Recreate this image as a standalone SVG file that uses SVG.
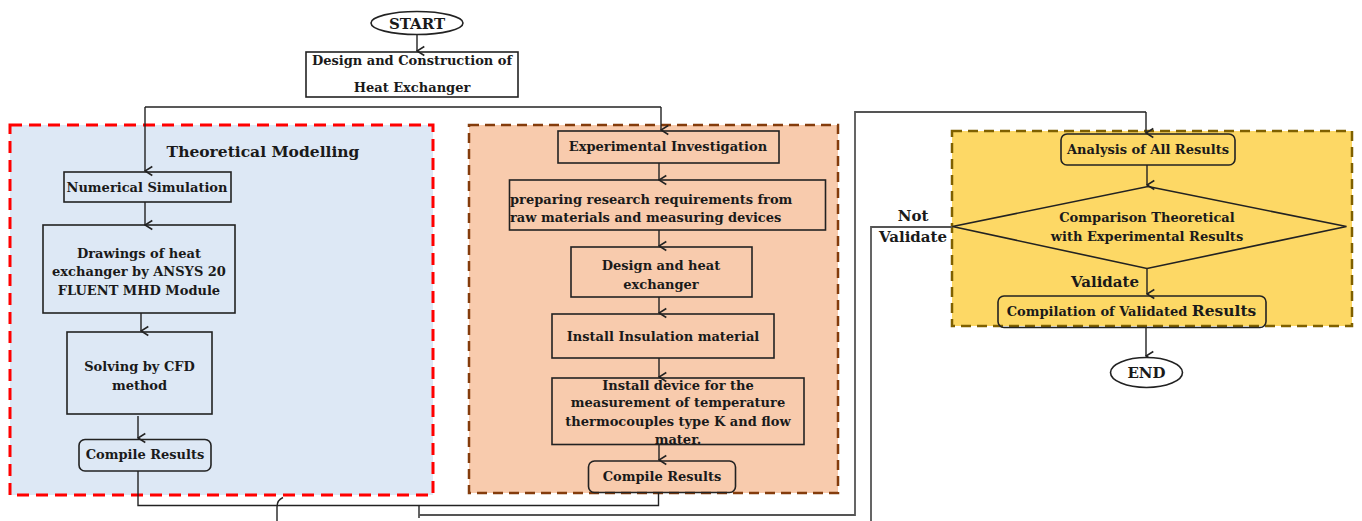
<svg xmlns="http://www.w3.org/2000/svg" width="1362" height="521" viewBox="0 0 1362 521">
  <defs>
    <marker id="arr" viewBox="0 0 12 12" refX="6" refY="11.3" markerWidth="12" markerHeight="12" markerUnits="userSpaceOnUse" orient="auto-start-reverse">
      <path d="M1.5,4 L6,11.3 L10.5,4" fill="none" stroke="#222" stroke-width="1.5"/>
    </marker>
  </defs>
  <style>
    text { font-family: "DejaVu Serif", "Liberation Serif", serif; font-weight: bold; fill: #1a1a1a; text-anchor: middle; font-size: 13px; }
    .box { fill: none; stroke: #222; stroke-width: 1.6; }
    .term { fill: #fff; stroke: #222; stroke-width: 1.6; }
    .line { fill: none; stroke: #222; stroke-width: 1.4; }
    .grey { fill: none; stroke: #555; stroke-width: 1.8; }
    .arrow { fill: none; stroke: #222; stroke-width: 1.4; marker-end: url(#arr); }
    .title { font-size: 15.5px; }
    .lbl { font-size: 15px; }
  </style>

  <rect width="1362" height="521" fill="#fff"/>

  <!-- grouping panels -->
  <g id="panel-theory">
    <rect x="10" y="125" width="423" height="370" fill="#dde8f5" stroke="#ff0000" stroke-width="3" stroke-dasharray="12,7"/>
  </g>
  <g id="panel-experiment">
    <rect x="469" y="125" width="369" height="368" fill="#f8cbad" stroke="#843c0c" stroke-width="2.5" stroke-dasharray="10,6"/>
  </g>
  <g id="panel-analysis">
    <rect x="952" y="131" width="400" height="195" fill="#fdd865" stroke="#7f6000" stroke-width="2.5" stroke-dasharray="10,6"/>
  </g>

  <!-- connectors -->
  <g id="connectors">
    <line class="arrow" x1="417" y1="35" x2="417" y2="51"/>
    <polyline class="line" points="145,107 661,107"/>
    <line class="arrow" x1="145" y1="107" x2="145" y2="171"/>
    <line class="arrow" x1="661" y1="107" x2="661" y2="130"/>
    <line class="arrow" x1="145" y1="202" x2="145" y2="225"/>
    <line class="arrow" x1="141" y1="313" x2="141" y2="331"/>
    <line class="arrow" x1="138" y1="416" x2="138" y2="438"/>
    <line class="arrow" x1="659" y1="163" x2="659" y2="180"/>
    <line class="arrow" x1="659" y1="230" x2="659" y2="246"/>
    <line class="arrow" x1="659" y1="297" x2="659" y2="313"/>
    <line class="arrow" x1="659" y1="358" x2="659" y2="377"/>
    <line class="arrow" x1="659" y1="444" x2="659" y2="460"/>
    <!-- results of both branches gathered -->
    <polyline class="line" points="138,471 138,505.5 658.5,505.5 658.5,493"/>
    <polyline class="line" points="419,505.5 419,518"/>
    <path class="line" d="M283,497.5 Q277,500 277,507 L277,521"/>
    <polyline class="grey" points="419,515 855,515 855,112 1146,112"/>
    <line class="arrow" x1="1146" y1="112" x2="1146" y2="133"/>
    <line class="arrow" x1="1147" y1="165" x2="1147" y2="185"/>
    <line class="arrow" x1="1147" y1="268" x2="1147" y2="294"/>
    <polyline class="grey" points="871,521 871,227 952,227"/>
    <line class="arrow" x1="1146" y1="327" x2="1146" y2="356"/>
  </g>

  <g id="start">
    <ellipse class="term" cx="417" cy="23" rx="46" ry="11.5"/>
    <text x="417" y="28.5" style="font-size:15px">START</text>
  </g>

  <g id="design-construction">
    <rect class="box" x="306" y="52" width="212" height="45" fill="#fff"/>
    <text x="412" y="65">Design and Construction of</text>
    <text x="412" y="92">Heat Exchanger</text>
  </g>

  <g id="theoretical-title">
    <text class="title" x="263" y="157">Theoretical Modelling</text>
  </g>

  <g id="numerical-simulation">
    <rect class="box" x="64" y="172" width="167" height="30"/>
    <text x="147" y="191.5">Numerical Simulation</text>
  </g>

  <g id="drawings">
    <rect class="box" x="43" y="225" width="192" height="88"/>
    <text x="139" y="257.5">Drawings of heat</text>
    <text x="139" y="276">exchanger by ANSYS 20</text>
    <text x="139" y="294.5">FLUENT MHD Module</text>
  </g>

  <g id="solving-cfd">
    <rect class="box" x="67" y="332" width="145" height="82"/>
    <text x="139.5" y="371">Solving by CFD</text>
    <text x="139.5" y="389.5">method</text>
  </g>

  <g id="compile-theory">
    <rect class="box" x="79" y="439.5" width="132" height="31.5" rx="6"/>
    <text x="145" y="459">Compile Results</text>
  </g>

  <g id="experimental-investigation">
    <rect class="box" x="558" y="131" width="221" height="32"/>
    <text x="668" y="150.5">Experimental Investigation</text>
  </g>

  <g id="preparing-requirements">
    <rect class="box" x="509.5" y="180" width="316" height="50"/>
    <text x="510" y="203.5" style="text-anchor:start">preparing research requirements from</text>
    <text x="510" y="221.5" style="text-anchor:start">raw materials and measuring devices</text>
  </g>

  <g id="design-heat-exchanger">
    <rect class="box" x="571" y="247" width="181" height="50"/>
    <text x="661" y="270">Design and heat</text>
    <text x="661" y="288.5">exchanger</text>
  </g>

  <g id="install-insulation">
    <rect class="box" x="552" y="314" width="222" height="44"/>
    <text x="663" y="341">Install Insulation material</text>
  </g>

  <g id="install-device">
    <rect class="box" x="552" y="378" width="252" height="66.5"/>
    <text x="678" y="389.5">Install device for the</text>
    <text x="678" y="407">measurement of temperature</text>
    <text x="678" y="425.5">thermocouples type K and flow</text>
    <text x="678" y="444">mater.</text>
  </g>

  <g id="compile-experiment">
    <rect class="box" x="588.5" y="461" width="147" height="31.5" rx="6"/>
    <text x="662" y="480.5">Compile Results</text>
  </g>

  <g id="analysis">
    <rect class="box" x="1061" y="134" width="174" height="31" rx="6"/>
    <text x="1148" y="153.5">Analysis of All Results</text>
  </g>

  <g id="comparison">
    <polygon class="box" points="1148,186.5 1346.5,226.5 1147,268.5 952.5,226.5"/>
    <text x="1147" y="222">Comparison Theoretical</text>
    <text x="1147" y="241">with Experimental Results</text>
  </g>

  <g id="labels">
    <text class="lbl" x="913" y="220.5">Not</text>
    <text class="lbl" x="913" y="241.5">Validate</text>
    <text class="lbl" x="1105" y="286.5">Validate</text>
  </g>

  <g id="compilation-validated">
    <rect class="box" x="998" y="296" width="268" height="31.5" rx="6"/>
    <text x="1131.5" y="316">Compilation of Validated <tspan style="font-size:15.5px">Results</tspan></text>
  </g>

  <g id="end">
    <ellipse class="term" cx="1146.5" cy="372.5" rx="36" ry="15"/>
    <text x="1146.5" y="378" style="font-size:15px">END</text>
  </g>
</svg>
